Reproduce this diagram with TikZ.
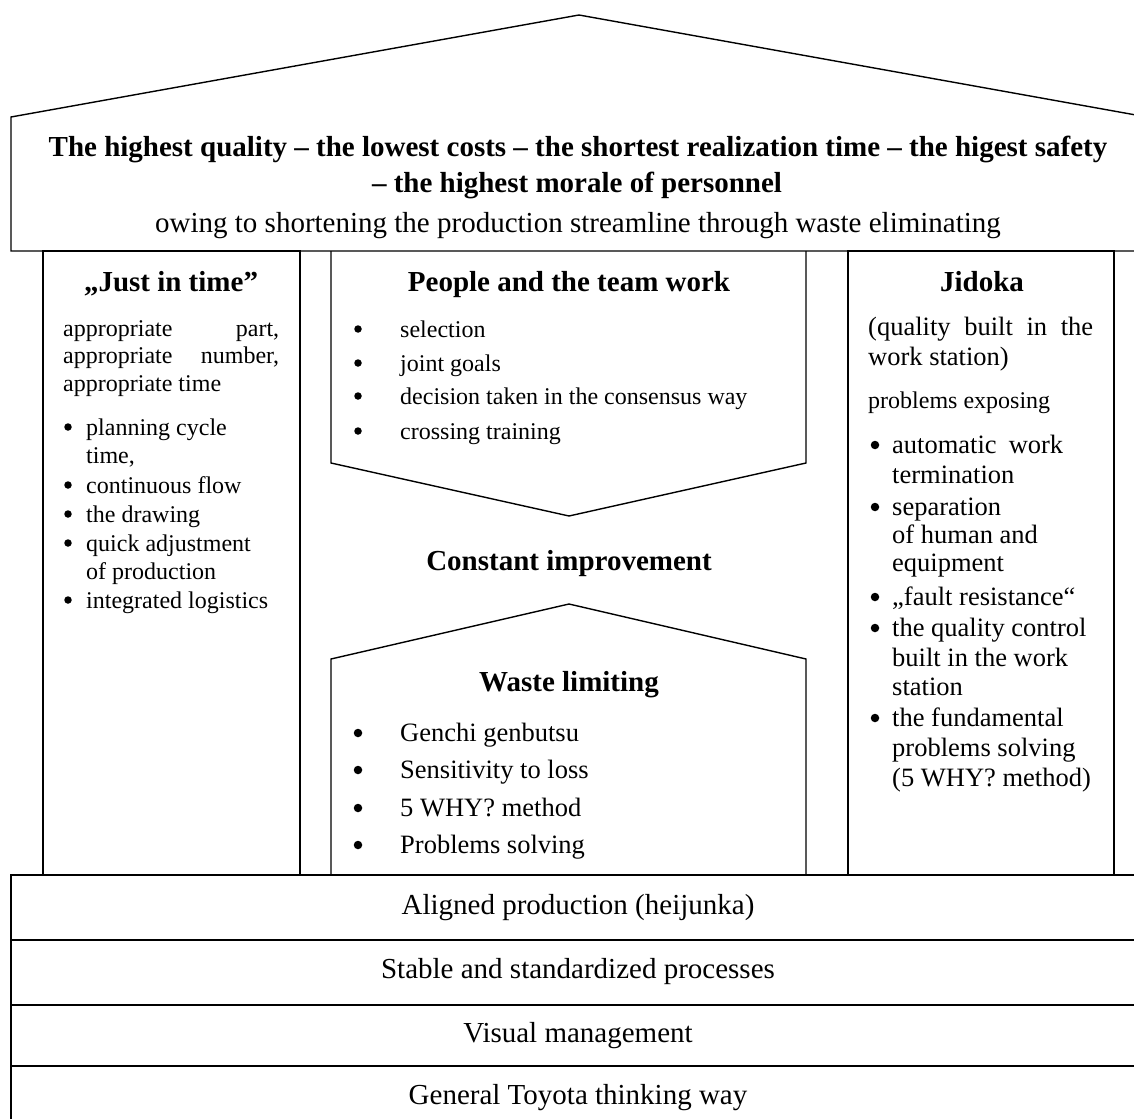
\documentclass[tikz,border=0pt]{standalone}
\usepackage{fontspec}
\setmainfont{Liberation Serif}
\begin{document}
\begin{tikzpicture}[x=1pt,y=-1pt,
  ln/.style={line width=1.4pt,line join=miter},
  hd/.style={font=\fontsize{29}{34}\selectfont\bfseries,inner sep=0pt,anchor=mid,yshift=-7pt},
  big/.style={font=\fontsize{29}{34}\selectfont,inner sep=0pt,anchor=mid,yshift=-7pt},
  sm/.style={font=\fontsize{24}{28}\selectfont,inner sep=0pt,anchor=mid west,yshift=-6pt},
  md/.style={font=\fontsize{26.5}{30}\selectfont,inner sep=0pt,anchor=mid west,yshift=-6pt},
  bs/.style={circle,fill=black,inner sep=0pt,minimum size=7.5pt},
  bm/.style={circle,fill=black,inner sep=0pt,minimum size=8.5pt},
]
\useasboundingbox (0,0) rectangle (1134,1118);
\clip (0,0) rectangle (1134,1118);

% roof / top box
\draw[ln] (11,251) -- (11,117) -- (579,15) -- (1147,117) -- (1147,251) -- cycle;
% pillars
\draw[ln] (43,251) rectangle (300,875);
\draw[ln] (848,251) rectangle (1114,875);
% middle arrow down
\draw[ln] (331,251) -- (331,463) -- (569,516) -- (806,463) -- (806,251);
% small house
\draw[ln] (331,875) -- (331,659) -- (569,604) -- (806,659) -- (806,875);
% foundation bands
\draw[ln] (11,875) rectangle (1147,940);
\draw[ln] (11,940) rectangle (1147,1005);
\draw[ln] (11,1005) rectangle (1147,1066);
\draw[ln] (11,1066) rectangle (1147,1130);

% title
\node[hd] (t1) at (578,147) {The highest quality – the lowest costs – the shortest realization time – the higest safety};
\node[hd] (t2) at (577,183) {– the highest morale of personnel};
\node[big] (t3) at (578,223) {owing to shortening the production streamline through waste eliminating};

% left pillar
\node[hd] (jit) at (171,282) {„Just in time”};
\node[sm] (jit1) at (63,328) {\hbox to 216pt{appropriate\hfill part,}};
\node[sm] (jit2) at (63,355) {\hbox to 216pt{appropriate\hfill number,}};
\node[sm] (jit3) at (63,383) {appropriate time};
\node[bs] (jb1) at (68,427) {};
\node[sm] (ji1) at (86,427) {planning cycle};
\node[sm] (ji1b) at (86,455) {time,};
\node[bs] (jb2) at (68,485) {};
\node[sm] (ji2) at (86,485) {continuous flow};
\node[bs] (jb3) at (68,514) {};
\node[sm] (ji3) at (86,514) {the drawing};
\node[bs] (jb4) at (68,543) {};
\node[sm] (ji4) at (86,543) {quick adjustment};
\node[sm] (ji4b) at (86,571) {of production};
\node[bs] (jb5) at (68,600) {};
\node[sm] (ji5) at (86,600) {integrated logistics};

% middle top
\node[hd] (ppl) at (569,282) {People and the team work};
\node[bs] (pb1) at (358,329) {};
\node[sm] (pi1) at (400,329) {selection};
\node[bs] (pb2) at (358,363) {};
\node[sm] (pi2) at (400,363) {joint goals};
\node[bs] (pb3) at (358,396) {};
\node[sm] (pi3) at (400,396) {decision taken in the consensus way};
\node[bs] (pb4) at (358,431) {};
\node[sm] (pi4) at (400,431) {crossing training};

\node[hd] (ci) at (569,561) {Constant improvement};

% waste limiting
\node[hd] (wl) at (569,682) {Waste limiting};
\node[bm] (wb1) at (358,733) {};
\node[md] (wi1) at (400,733) {Genchi genbutsu};
\node[bm] (wb2) at (358,770) {};
\node[md] (wi2) at (400,770) {Sensitivity to loss};
\node[bm] (wb3) at (358,808) {};
\node[md] (wi3) at (400,808) {5 WHY? method};
\node[bm] (wb4) at (358,845) {};
\node[md] (wi4) at (400,845) {Problems solving};

% right pillar
\node[hd] (jd) at (982,282) {Jidoka};
\node[md] (jd1) at (868,327) {\hbox to 225pt{(quality\hfill built\hfill in\hfill the}};
\node[md] (jd2) at (868,357) {work station)};
\node[sm] (jd3) at (868,400) {problems exposing};
\node[bm] (db1) at (875,445) {};
\node[md] (di1) at (892,445) {\hbox to 171pt{automatic\hfill work}};
\node[md] (di1b) at (892,475) {termination};
\node[bm] (db2) at (875,507) {};
\node[md] (di2) at (892,507) {separation};
\node[md] (di2b) at (892,535) {of human and};
\node[md] (di2c) at (892,563) {equipment};
\node[bm] (db3) at (875,597) {};
\node[md] (di3) at (892,597) {„fault resistance“};
\node[bm] (db4) at (875,628) {};
\node[md] (di4) at (892,628) {the quality control};
\node[md] (di4b) at (892,658) {built in the work};
\node[md] (di4c) at (892,687) {station};
\node[bm] (db5) at (875,718) {};
\node[md] (di5) at (892,718) {the fundamental};
\node[md] (di5b) at (892,748) {problems solving};
\node[md] (di5c) at (892,778) {(5 WHY? method)};

% foundation texts
\node[big] (f1) at (578,905) {Aligned production (heijunka)};
\node[big] (f2) at (578,969) {Stable and standardized processes};
\node[big] (f3) at (578,1033) {Visual management};
\node[big] (f4) at (578,1095) {General Toyota thinking way};
\end{tikzpicture}
\end{document}
